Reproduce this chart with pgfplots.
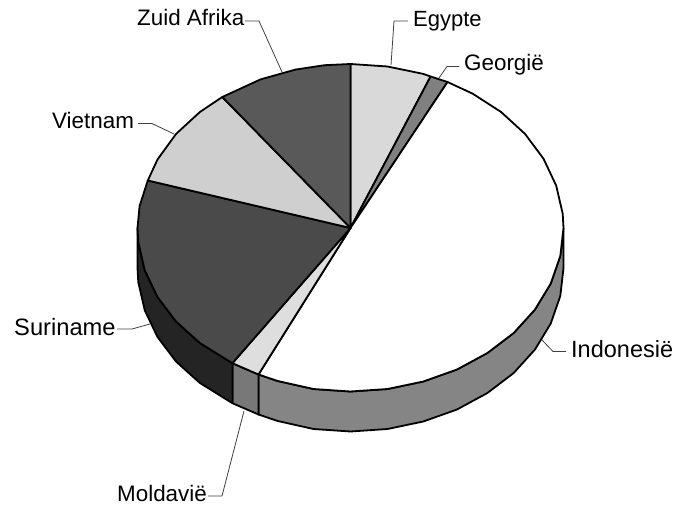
\documentclass[border=0pt]{standalone}
\usepackage{pgfplots}
\pgfplotsset{compat=1.18}
\usepackage{fontspec}
\setmainfont{Liberation Sans}
\definecolor{eg}{gray}{0.85}
\definecolor{ge}{gray}{0.50}
\definecolor{mo}{gray}{0.87}
\definecolor{su}{gray}{0.29}
\definecolor{vi}{gray}{0.81}
\definecolor{zu}{gray}{0.35}
\definecolor{insd}{gray}{0.52}
\definecolor{mosd}{gray}{0.47}
\definecolor{susd}{gray}{0.14}
\definecolor{lead}{gray}{0.25}
\tikzset{
    slice/.style={draw=black,line width=1.8pt,line join=round,fill=#1},
    leader/.style={draw=lead,line width=0.8pt},
    lab/.style={anchor=base west,inner sep=0pt,font=\fontsize{#1}{24}\selectfont},
    lab/.default=22.4,
}
\begin{document}
\begin{tikzpicture}
\begin{axis}[
    x=1pt, y=1pt,
    xmin=0, xmax=678,
    ymin=0, ymax=508,
    y dir=reverse,
    hide axis,
    clip=false,
]
\addplot[draw=none] coordinates {(0,0) (678,508)};

% side, Indonesie
\addplot[slice=insd] coordinates {
(563.5,228) (560.3,256) (550.7,283.6) (535,309.5) (513.7,333) (487.4,353) (457,369.5) (423.3,381.5) (387.5,389) (350.5,391.5) (313.5,389) (277.7,381) (258.5,374.5)
(258.5,414.5) (277.7,421) (313.5,429) (350.5,431.5) (387.5,429) (423.3,421.5) (457,409.5) (487.4,393) (513.7,373) (535,349.5) (550.7,323.6) (560.3,296) (563.5,268)
} -- cycle;
% side, Moldavie
\addplot[slice=mosd] coordinates {
(258.5,374.5) (232.4,363.2) (232.4,403.2) (258.5,414.5)
} -- cycle;
% side, Suriname
\addplot[slice=susd] coordinates {
(232.4,363.2) (199.9,343) (176,321.5) (157.5,297) (144.8,270.4) (138.3,242.3) (137.5,228)
(137.5,268) (138.3,282.3) (144.8,310.4) (157.5,337) (176,361.5) (199.9,383) (232.4,403.2)
} -- cycle;

% top of the pie
\addplot[slice=eg] coordinates {
(350.5,228) (350.5,64) (387.5,66.5) (423.3,73.9) (430.6,76.5)
} -- cycle;
\addplot[slice=ge] coordinates {
(350.5,228) (430.6,76.5) (447.5,82)
} -- cycle;
\addplot[slice=white] coordinates {
(350.5,228) (447.5,82) (472.7,93.7) (501.1,112) (525,133.9) (543.5,158.7) (556.2,185.6) (562.7,213.7) (563.5,228) (560.3,256) (550.7,283.6) (535,309.5) (513.7,333) (487.4,353) (457,369.5) (423.3,381.5) (387.5,389) (350.5,391.5) (313.5,389) (277.7,381) (258.5,374.5)
} -- cycle;
\addplot[slice=mo] coordinates {
(350.5,228) (258.5,374.5) (232.4,363.2)
} -- cycle;
\addplot[slice=su] coordinates {
(350.5,228) (232.4,363.2) (199.9,343) (176,321.5) (157.5,297) (144.8,270.4) (138.3,242.3) (137.5,228) (139.6,206) (147.8,180.5)
} -- cycle;
\addplot[slice=vi] coordinates {
(350.5,228) (147.8,180.5) (157.5,159.5) (176,134) (199.9,112) (222.3,97)
} -- cycle;
\addplot[slice=zu] coordinates {
(350.5,228) (222.3,97) (260.5,79.4) (295.4,69.6) (324.5,65.2) (350.5,64)
} -- cycle;

% leader lines
\addplot[leader] coordinates {(408,21) (394,21) (391,65)};
\addplot[leader] coordinates {(459,66.5) (447,66.5) (439,78)};
\addplot[leader] coordinates {(245,21) (259,21) (282,72)};
\addplot[leader] coordinates {(138,123.5) (152,123.5) (174,134)};
\addplot[leader] coordinates {(117,329) (132,329) (150,324)};
\addplot[leader] coordinates {(208,496) (222,496) (244,411)};
\addplot[leader] coordinates {(566,351.5) (553,351.5) (542,340)};

\node[lab=22] at (axis cs:413,27) {Egypte};
\node[lab] at (axis cs:464,71) {Georgië};
\node[lab] at (axis cs:137,26) {Zuid Afrika};
\node[lab] at (axis cs:52,129) {Vietnam};
\node[lab=23.7] at (axis cs:14,335) {Suriname};
\node[lab] at (axis cs:117,501) {Moldavië};
\node[lab=23.5] at (axis cs:571,357) {Indonesië};
\end{axis}
\end{tikzpicture}
\end{document}
